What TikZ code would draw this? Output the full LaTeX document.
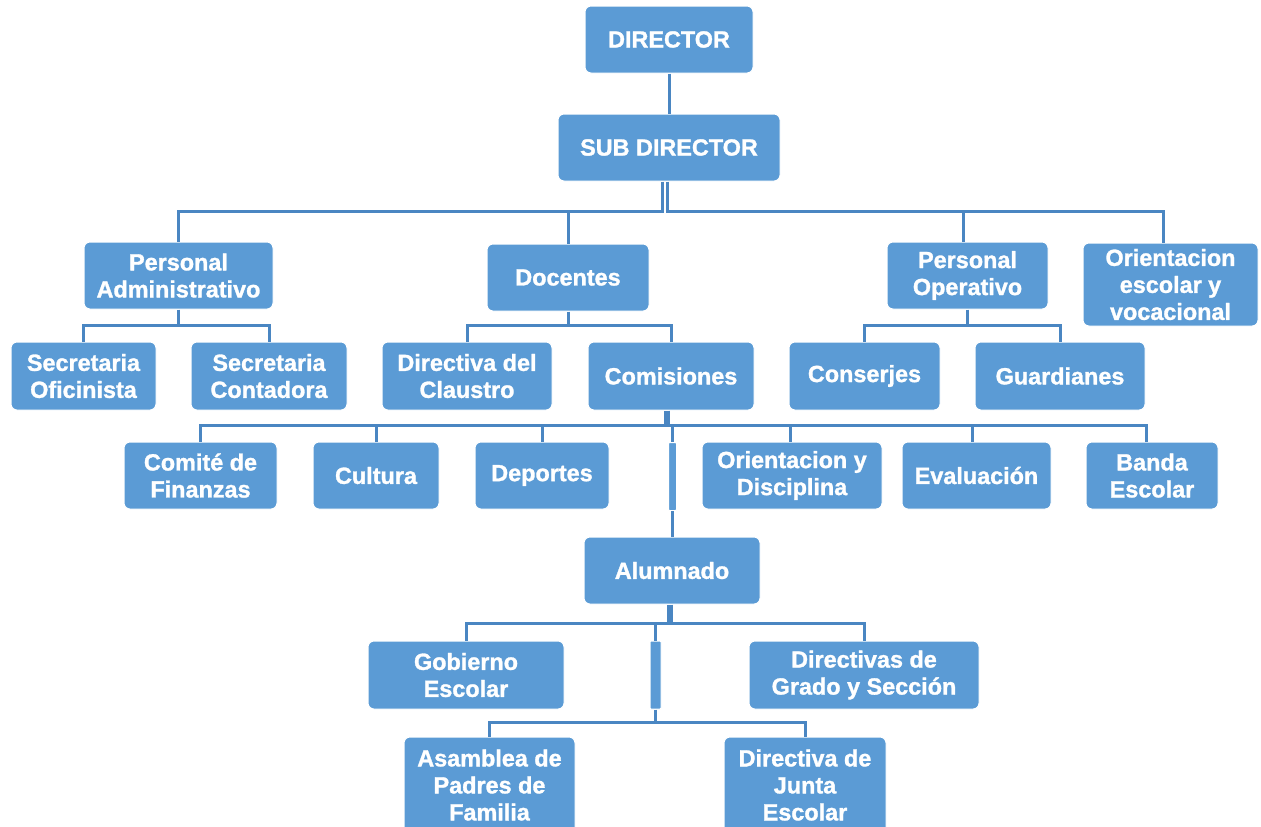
\documentclass[tikz,border=0pt]{standalone}
\usepackage{fontspec}
\setmainfont{Liberation Sans}[BoldFeatures={FakeBold=1.3}]
\definecolor{boxblue}{RGB}{91,155,213}
\definecolor{lineblue}{RGB}{74,134,194}
\begin{document}
\begin{tikzpicture}[x=0.5pt,y=-0.5pt,
  box/.style={rectangle, rounded corners=3pt, fill=boxblue, draw=white, line width=0.5pt,
    text=white, font=\bfseries\fontsize{11.7}{13.5}\selectfont, align=center, inner sep=0pt},
  conn/.style={draw=lineblue, line width=1.5pt},
  thickconn/.style={draw=lineblue, line width=3pt}]
\useasboundingbox (0,0) rectangle (1261,826);
\clip (0,0) rectangle (1261,826);

% nodes
\node[box, minimum width=84pt, minimum height=33.5pt] (dir) at (669,39.5) {DIRECTOR};
\node[box, minimum width=111pt, minimum height=33.5pt] (sub) at (669,147.5) {SUB DIRECTOR};
\node[box, minimum width=94.5pt, minimum height=33.5pt] (padm) at (178.5,275.5) {Personal\\Administrativo};
\node[box, minimum width=81pt, minimum height=33.5pt] (doc) at (568,277.5) {Docentes};
\node[box, minimum width=80.5pt, minimum height=33.5pt] (pop) at (967.5,275.5) {Personal\\Operativo};
\node[box, minimum width=87.5pt, minimum height=41.5pt] (ori) at (1170.5,284.5) {Orientacion\\escolar y\\vocacional};

\node[box, minimum width=72.5pt, minimum height=34pt] (sof) at (83.5,376) {Secretaria\\Oficinista};
\node[box, minimum width=78pt, minimum height=34pt] (sco) at (269,376) {Secretaria\\Contadora};
\node[box, minimum width=85pt, minimum height=34pt] (dcl) at (467,376) {Directiva del\\Claustro};
\node[box, minimum width=83pt, minimum height=34pt] (com) at (671,376) {Comisiones};
\node[box, minimum width=75.5pt, minimum height=34pt] (con) at (864.5,376) {Conserjes};
\node[box, minimum width=85pt, minimum height=34pt] (gua) at (1060,376) {Guardianes};

\node[box, minimum width=76.5pt, minimum height=33.5pt] (fin) at (200.5,475.5) {Comité de\\Finanzas};
\node[box, minimum width=63pt, minimum height=33.5pt] (cul) at (376,475.5) {Cultura};
\node[box, minimum width=67pt, minimum height=33.5pt] (dep) at (542,475.5) {Deportes};
\node[box, minimum width=4pt, minimum height=34pt, rounded corners=0.5pt] (bar1) at (672.5,476.5) {};
\node[box, minimum width=90pt, minimum height=33.5pt] (odi) at (792,475.5) {Orientacion y\\Disciplina};
\node[box, minimum width=74.5pt, minimum height=33.5pt] (eva) at (976.5,475.5) {Evaluación};
\node[box, minimum width=66pt, minimum height=33.5pt] (ban) at (1152,475.5) {Banda\\Escolar};

\node[box, minimum width=88pt, minimum height=33.5pt] (alu) at (672,570.5) {Alumnado};

\node[box, minimum width=98pt, minimum height=34pt] (gob) at (466,675) {Gobierno\\Escolar};
\node[box, minimum width=5.5pt, minimum height=34pt, rounded corners=0.5pt] (bar2) at (655.5,675) {};
\node[box, minimum width=115pt, minimum height=34pt] (dgs) at (864,675) {Directivas de\\Grado y Sección};

\node[box, minimum width=85.5pt, minimum height=48pt] (asa) at (489.5,785) {Asamblea de\\Padres de\\Familia};
\node[box, minimum width=81pt, minimum height=48pt] (dju) at (805,785) {Directiva de\\Junta\\Escolar};

% connectors
\draw[conn] (dir) -- (sub);

\coordinate (jL) at (662,211);
\coordinate (jR) at (667,211);
\draw[conn] (sub.south -| jL) -- (jL) -| (padm);
\draw[conn] (jL) -| (doc);
\draw[conn] (sub.south -| jR) -- (jR) -| ([xshift=-2pt]pop.north);
\draw[conn] (jR) -| ([xshift=-3.5pt]ori.north);

\coordinate (ja) at (178.5,325);
\draw[conn] (padm) -- (ja);
\draw[conn] (ja) -| (sof);
\draw[conn] (ja) -| (sco);

\coordinate (jd) at (568,325);
\draw[conn] (doc) -- (jd);
\draw[conn] (jd) -| (dcl);
\draw[conn] (jd) -| (com);

\coordinate (jp) at (967.5,325);
\draw[conn] (pop) -- (jp);
\draw[conn] (jp) -| (con);
\draw[conn] (jp) -| (gua);

\coordinate (jc) at (667,425);
\draw[thickconn] (com.south -| jc) -- (jc);
\draw[conn] (jc) -| (fin);
\draw[conn] (jc) -| (cul);
\draw[conn] (jc) -| (dep);
\draw[conn] (jc) -| (bar1);
\draw[conn] (jc) -| ([xshift=-1pt]odi.north);
\draw[conn] (jc) -| ([xshift=-2pt]eva.north);
\draw[conn] (jc) -| ([xshift=-3pt]ban.north);
\draw[conn] (bar1.south) -- (bar1.south |- alu.north);

\coordinate (jal) at (670,623);
\draw[thickconn] (alu.south -| jal) -- (jal);
\draw[conn] (jal) -| (gob);
\draw[conn] (jal) -| (bar2);
\draw[conn] (jal) -| (dgs);

\coordinate (jb) at (655.5,722.5);
\draw[conn] (bar2) -- (jb);
\draw[conn] (jb) -| (asa);
\draw[conn] (jb) -| (dju);
\end{tikzpicture}
\end{document}
